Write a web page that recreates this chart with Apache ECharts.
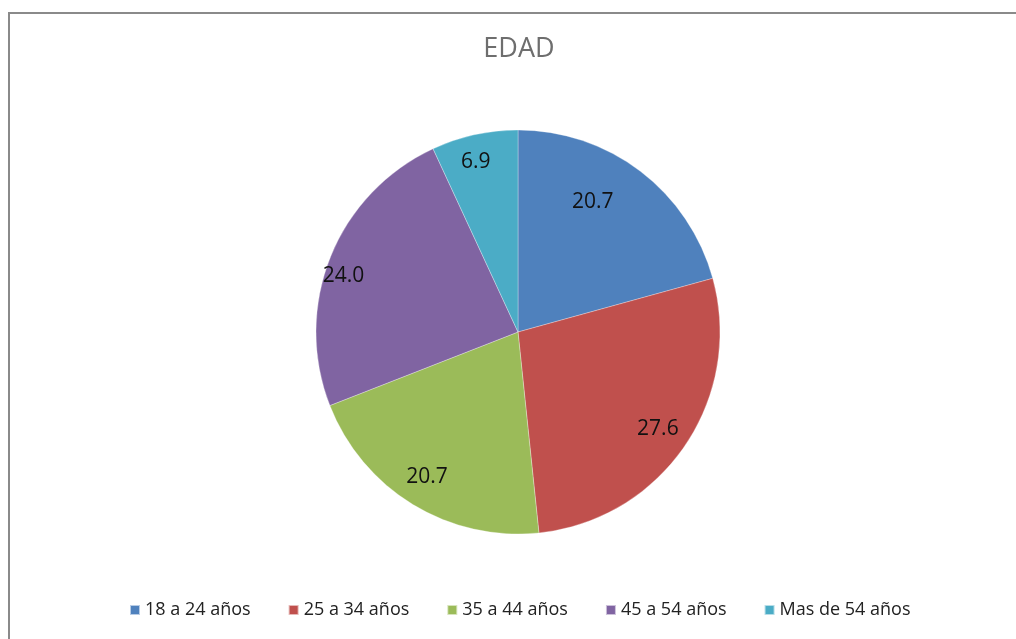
<!DOCTYPE html>
<html>
<head>
<meta charset="utf-8">
<script src="https://cdn.jsdelivr.net/npm/echarts@6/dist/echarts.min.js"></script>
<style>
  html, body { margin: 0; padding: 0; background: #fff; }
  #wrap { position: relative; width: 1016px; height: 639px; overflow: hidden; }
  #frame { position: absolute; left: 8px; top: 12px; width: 1100px; height: 700px;
           border-left: 2px solid #8a8a8a; border-top: 2px solid #8a8a8a; box-sizing: border-box; }
  #chart { position: absolute; left: 0; top: 0; width: 1016px; height: 639px; }
</style>
</head>
<body>
<div id="wrap">
  <div id="frame"></div>
  <div id="chart"></div>
</div>
<script>
// Age groups and their share (%)
const categories = ['18 a 24 años', '25 a 34 años', '35 a 44 años', '45 a 54 años', 'Mas de 54 años'];
const shares = [20.7, 27.6, 20.7, 24.0, 6.9];
const colors = ['#4F81BD', '#C0504D', '#9BBB59', '#8064A2', '#4BACC6'];

const font = '"Open Sans", "Liberation Sans", sans-serif';
const pieData = categories.map((name, i) => ({ name, value: shares[i], itemStyle: { color: colors[i] } }));

// small nudges for the value labels (best-fit style placement)
const labelNudge = [[-30, 8], [-3, -1], [-1, -3], [-14, 9], [-5, -1]];

const chart = echarts.init(document.getElementById('chart'), null, { renderer: 'canvas' });
chart.setOption({
  animation: false,
  backgroundColor: 'transparent',
  title: {
    text: 'EDAD',
    left: 514,
    top: 31,
    textAlign: 'center',
    textStyle: { fontFamily: font, fontSize: 27, fontWeight: 'normal', color: '#6e6e6e' }
  },
  legend: {
    bottom: 15,
    left: 124,
    icon: 'rect',
    itemWidth: 10,
    itemHeight: 10,
    itemGap: 37,
    textStyle: { fontFamily: font, fontSize: 18, color: '#222' },
    data: categories
  },
  series: [
    {
      // visible pie slices
      type: 'pie',
      center: [518, 332],
      radius: [0, 202],
      startAngle: 90,
      clockwise: true,
      label: { show: false },
      labelLine: { show: false },
      itemStyle: { borderColor: 'rgba(255,255,255,0.6)', borderWidth: 0.5 },
      emphasis: { disabled: true },
      data: pieData
    },
    {
      // transparent ring used only to place the value labels further out
      type: 'pie',
      center: [518, 332],
      radius: [0, 340],
      startAngle: 90,
      clockwise: true,
      silent: true,
      legendHoverLink: false,
      itemStyle: { color: 'transparent' },
      label: {
        show: true,
        position: 'inside',
        formatter: p => p.value.toFixed(1),
        fontFamily: font,
        fontSize: 21,
        color: '#111'
      },
      labelLayout: p => ({ dx: labelNudge[p.dataIndex][0], dy: labelNudge[p.dataIndex][1] }),
      labelLine: { show: false },
      emphasis: { disabled: true },
      data: categories.map((name, i) => ({ name: name + ' ', value: shares[i] }))
    }
  ]
});
</script>
</body>
</html>
